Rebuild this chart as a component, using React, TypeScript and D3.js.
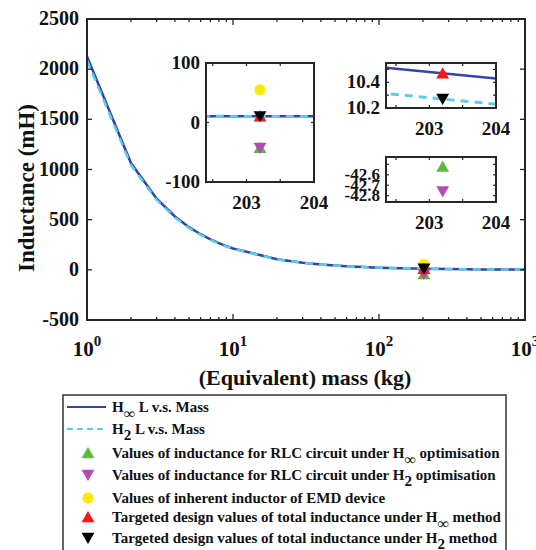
import React from 'react';
import * as d3 from 'd3';

// curve data: mass (kg) vs inductance (mH)
const masses = [1, 2, 3, 4, 5, 6, 7, 8, 9, 10, 20, 30, 40, 50, 60, 70, 80, 90, 100, 200, 202, 203, 204, 205, 300, 400, 500, 600, 700, 800, 900, 1000];
const lHinf = [2127, 1064, 709, 532, 425, 355, 304, 266, 236, 213, 106, 71, 53, 43, 35, 30, 27, 24, 21.3, 10.64, 10.53, 10.48, 10.43, 10.38, 7.1, 5.3, 4.3, 3.5, 3.0, 2.7, 2.4, 2.1];
const lH2 = [2087, 1044, 696, 522, 417, 348, 298, 261, 232, 209, 104, 70, 52, 42, 35, 30, 26, 23, 20.9, 10.44, 10.33, 10.28, 10.23, 10.18, 7.0, 5.2, 4.2, 3.5, 3.0, 2.6, 2.3, 2.1];

// single design point
const pointMass = [203.2];
const rlcHinf = [-42.52];
const rlcH2 = [-42.76];
const inherentL = [55];
const targetHinf = [10.47];
const targetH2 = [10.27];

const yTicks = [-500, 0, 500, 1000, 1500, 2000, 2500];
const xDecades = [1, 10, 100, 1000];
const xExps = ['0', '1', '2', '3'];

const FONT = '"Liberation Serif", "DejaVu Serif", "Times New Roman", Times, serif';
const AX = '#262626';
const BLUE = '#3443a6';
const CYAN = '#5ccde6';
const GREEN = '#5db83e';
const MAGENTA = '#b24db4';
const YELLOW = '#fbeb00';
const RED = '#ff1414';

const tri = d3.symbol().type(d3.symbolTriangle).size(72)();
const circ = d3.symbol().type(d3.symbolCircle).size(100)();

type Mk = { vals: number[]; color: string; down?: boolean; circle?: boolean };
const markers: Mk[] = [
  { vals: rlcHinf, color: GREEN },
  { vals: rlcH2, color: MAGENTA, down: true },
  { vals: inherentL, color: YELLOW, circle: true },
  { vals: targetHinf, color: RED },
  { vals: targetH2, color: '#000', down: true },
];

const Marker = ({ x, y, m }: { x: number; y: number; m: Mk }) => (
  <path
    d={m.circle ? circ! : tri!}
    fill={m.color}
    transform={`translate(${x},${y + (m.circle ? 0 : m.down ? -1.5 : 1.5)})${m.down ? ' rotate(180)' : ''}`}
  />
);

const curves = (x: any, y: any, thin = false) => {
  const lineInf = d3.line<number>().x((_, i) => x(masses[i])).y((d) => y(d))(lHinf);
  const line2 = d3.line<number>().x((_, i) => x(masses[i])).y((d) => y(d))(lH2);
  return (
    <g fill="none">
      <path d={lineInf!} stroke={BLUE} strokeWidth={2.5} />
      <path d={line2!} stroke={CYAN} strokeWidth={thin ? 2.5 : 3} strokeDasharray="8,6" />
    </g>
  );
};

type InsetProps = {
  id: string;
  box: [number, number, number, number];
  xd: [number, number];
  yd: [number, number];
  xt: number[];
  xl: number[];
  yt: number[];
  yl: { v: number; t: string }[];
  show: number[];
  fs?: number;
};

const Inset = ({ id, box, xd, yd, xt, xl, yt, yl, show, fs = 19 }: InsetProps) => {
  const [x0, y0, x1, y1] = box;
  const x = d3.scaleLinear().domain(xd).range([x0, x1]);
  const y = d3.scaleLinear().domain(yd).range([y1, y0]);
  return (
    <g>
      <clipPath id={id}>
        <rect x={x0} y={y0} width={x1 - x0} height={y1 - y0} />
      </clipPath>
      <rect x={x0} y={y0} width={x1 - x0} height={y1 - y0} fill="#fff" />
      <g clipPath={`url(#${id})`}>
        {curves(x, y)}
        {show.map((k) =>
          pointMass.map((pm, i) => <Marker key={`${k}-${i}`} x={x(pm)} y={y(markers[k].vals[i])} m={markers[k]} />)
        )}
      </g>
      {xt.map((t) => (
        <g key={t} stroke={AX} strokeWidth={1.2}>
          <line x1={x(t)} x2={x(t)} y1={y1} y2={y1 - 3} />
          <line x1={x(t)} x2={x(t)} y1={y0} y2={y0 + 3} />
        </g>
      ))}
      {yt.map((t) => (
        <g key={t} stroke={AX} strokeWidth={1.2}>
          <line x1={x0} x2={x0 + 3} y1={y(t)} y2={y(t)} />
          <line x1={x1} x2={x1 - 3} y1={y(t)} y2={y(t)} />
        </g>
      ))}
      <rect x={x0} y={y0} width={x1 - x0} height={y1 - y0} fill="none" stroke={AX} strokeWidth={2} />
      {xl.map((t) => (
        <text key={t} x={x(t)} y={y1 + 27} textAnchor="middle" fontSize={19}>
          {t}
        </text>
      ))}
      {yl.map((t) => (
        <text key={t.t} x={x0 - 6} y={y(t.v) + fs * 0.32} textAnchor="end" fontSize={fs}>
          {t.t}
        </text>
      ))}
    </g>
  );
};

const legendRows = [
  { y: 407, kind: 'solid' },
  { y: 429, kind: 'dash' },
  { y: 453, mk: 0 },
  { y: 475, mk: 1 },
  { y: 498, mk: 2 },
  { y: 517, mk: 3 },
  { y: 538, mk: 4 },
];

const Sub = ({ s }: { s: string }) =>
  s === '∞' ? (
    <tspan dy={7} fontSize={16}>∞</tspan>
  ) : (
    <tspan dy={6}>{s}</tspan>
  );

const legendTexts: React.ReactNode[] = [
  <>H<Sub s="∞" /><tspan dy={-7}> L v.s. Mass</tspan></>,
  <>H<Sub s="2" /><tspan dy={-6}> L v.s. Mass</tspan></>,
  <>Values of inductance for RLC circuit under H<Sub s="∞" /><tspan dy={-7}> optimisation</tspan></>,
  <>Values of inductance for RLC circuit under H<Sub s="2" /><tspan dy={-6}> optimisation</tspan></>,
  <>Values of inherent inductor of EMD device</>,
  <>Targeted design values of total inductance under H<Sub s="∞" /><tspan dy={-7}> method</tspan></>,
  <>Targeted design values of total inductance under H<Sub s="2" /><tspan dy={-6}> method</tspan></>,
];

export default function App() {
  const W = 536;
  const H = 550;
  const x = d3.scaleLog().domain([1, 1000]).range([87, 525]);
  const y = d3.scaleLinear().domain([-500, 2500]).range([320, 19]);
  const [px0, px1] = x.range();
  const [py1, py0] = y.range();
  const minor: number[] = [];
  [1, 10, 100].forEach((d) => {
    for (let k = 2; k <= 9; k++) minor.push(d * k);
  });

  return (
    <svg
      width={W}
      height={H}
      style={{ position: 'absolute', left: 0, top: 0, background: '#fff', fontFamily: FONT, fontWeight: 700 }}
      fill="#111"
    >
      <rect width={W} height={H} fill="#fff" />
      <clipPath id="main">
        <rect x={px0} y={py0} width={px1 - px0} height={py1 - py0} />
      </clipPath>
      <g clipPath="url(#main)">
        {curves(x, y, true)}
        {markers.map((m, k) =>
          pointMass.map((pm, i) => <Marker key={`${k}-${i}`} x={x(pm)} y={y(m.vals[i])} m={m} />)
        )}
      </g>

      {/* ticks, inward on all four sides */}
      <g stroke={AX} strokeWidth={1.3}>
        {yTicks.map((t) => (
          <g key={t}>
            <line x1={px0} x2={px0 + 5} y1={y(t)} y2={y(t)} />
            <line x1={px1} x2={px1 - 5} y1={y(t)} y2={y(t)} />
          </g>
        ))}
        {xDecades.map((t) => (
          <g key={t}>
            <line x1={x(t)} x2={x(t)} y1={py1} y2={py1 - 6} />
            <line x1={x(t)} x2={x(t)} y1={py0} y2={py0 + 6} />
          </g>
        ))}
        {minor.map((t) => (
          <g key={t}>
            <line x1={x(t)} x2={x(t)} y1={py1} y2={py1 - 3} />
            <line x1={x(t)} x2={x(t)} y1={py0} y2={py0 + 3} />
          </g>
        ))}
      </g>
      <rect x={px0} y={py0} width={px1 - px0} height={py1 - py0} fill="none" stroke={AX} strokeWidth={2} />

      {yTicks.map((t) => (
        <text key={t} x={px0 - 8} y={y(t) + 6} textAnchor="end" fontSize={20}>
          {t}
        </text>
      ))}
      {xDecades.map((t, i) => (
        <text key={t} x={x(t)} y={356} textAnchor="middle" fontSize={21}>
          10<tspan dy={-10} fontSize={15}>{xExps[i]}</tspan>
        </text>
      ))}
      <text x={305} y={385} textAnchor="middle" fontSize={22}>
        (Equivalent) mass (kg)
      </text>
      <text transform="translate(34,188) rotate(-90)" textAnchor="middle" fontSize={23}>
        Inductance (mH)
      </text>

      <Inset
        id="in1"
        box={[206, 63, 314, 182]}
        xd={[202.4, 204]}
        yd={[-100, 100]}
        xt={[202.5, 203, 203.5, 204]}
        xl={[203, 204]}
        yt={[-100, 0, 100]}
        yl={[{ v: 100, t: '100' }, { v: 0, t: '0' }, { v: -100, t: '-100' }]}
        show={[0, 1, 2, 3, 4]}
      />
      <Inset
        id="in2"
        box={[386, 63, 496, 108]}
        xd={[202.35, 204]}
        yd={[10.2, 10.55]}
        xt={[202.5, 203, 203.5, 204]}
        xl={[203, 204]}
        yt={[10.2, 10.3, 10.4, 10.5]}
        yl={[{ v: 10.4, t: '10.4' }, { v: 10.2, t: '10.2' }]}
        show={[3, 4]}
      />
      <Inset
        id="in3"
        box={[386, 157, 496, 202]}
        xd={[202.35, 204]}
        yd={[-42.86, -42.43]}
        xt={[202.5, 203, 203.5, 204]}
        xl={[203, 204]}
        yt={[-42.8, -42.7, -42.6, -42.5]}
        yl={[{ v: -42.6, t: '-42.6' }, { v: -42.7, t: '-42.7' }, { v: -42.8, t: '-42.8' }]}
        show={[0, 1]}
        fs={17}
      />

      {/* legend */}
      <rect x={63} y={395} width={443} height={200} fill="#fff" stroke="#333" strokeWidth={1.5} />
      {legendRows.map((r, i) => (
        <g key={i}>
          {r.kind === 'solid' && <line x1={67} x2={106} y1={r.y} y2={r.y} stroke={BLUE} strokeWidth={2} />}
          {r.kind === 'dash' && (
            <line x1={67} x2={106} y1={r.y} y2={r.y} stroke={CYAN} strokeWidth={2} strokeDasharray="6,4" />
          )}
          {r.mk !== undefined && <Marker x={88} y={r.y} m={markers[r.mk]} />}
          <text x={112} y={r.y + 5} fontSize={15}>
            {legendTexts[i]}
          </text>
        </g>
      ))}
    </svg>
  );
}
